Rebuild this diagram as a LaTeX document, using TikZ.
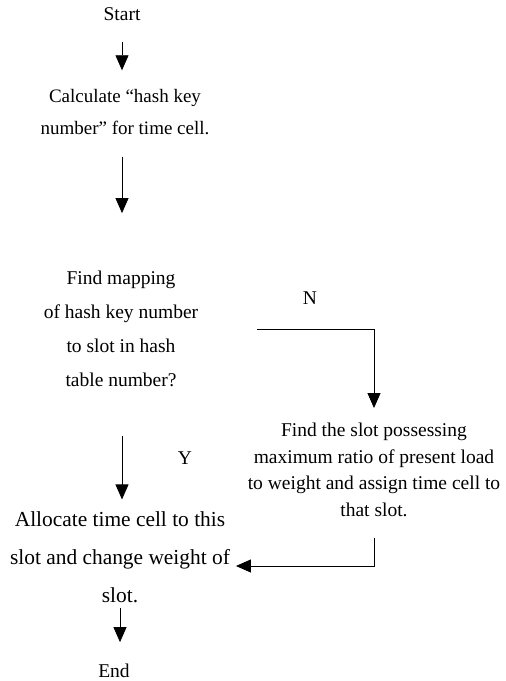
\documentclass[tikz,border=0pt]{standalone}
\usepackage{fontspec}
\setmainfont{Liberation Serif}
\usetikzlibrary{arrows.meta}
\tikzset{
  txt/.style={inner sep=0pt, outer sep=0pt, align=center},
  arr/.style={line width=0.8pt, -{Triangle[width=13pt,length=15pt]}},
  ln/.style={line width=0.8pt}
}
\begin{document}
\begin{tikzpicture}[x=1pt,y=-1pt]
\useasboundingbox (0,0) rectangle (506,681);
\node[txt, font=\fontsize{19.5}{32}\selectfont] (start) at (122,14) {Start};
\node[txt, font=\fontsize{19}{32}\selectfont] (calc) at (125,112) {Calculate “hash key\\number” for time cell.};
\node[txt, font=\fontsize{19.5}{34}\selectfont] (find) at (121,329) {Find mapping\\of hash key number\\to slot in hash\\table number?};
\node[txt, font=\fontsize{19.5}{32}\selectfont] (nlab) at (310,298) {N};
\node[txt, font=\fontsize{19.5}{26.7}\selectfont] (slot) at (374,470) {Find the slot possessing\\maximum ratio of present load\\to weight and assign time cell to\\that slot.};
\node[txt, font=\fontsize{19.5}{32}\selectfont] (ylab) at (185,458) {Y};
\node[txt, font=\fontsize{21.4}{38}\selectfont] (alloc) at (120,557) {Allocate time cell to this\\slot and change weight of\\slot.};
\node[txt, font=\fontsize{19.5}{32}\selectfont] (end) at (114,671) {End};

\draw[arr, shorten <=21pt, shorten >=19pt] (start.south) -- (start.south |- calc.north);
\draw[arr, shorten <=22pt, shorten >=58pt] (calc.south -| start) -- (start |- find.north);
\draw[arr, shorten <=59pt, shorten >=15pt] (find.east) -| (slot.north);
\draw[arr, shorten <=21pt, shorten >=6pt] (slot.south) |- ([yshift=-9pt]alloc.east);
\draw[arr, shorten <=49pt, shorten >=12pt] (find.south -| start) -- (start |- alloc.north);
\draw[arr, shorten <=5pt, shorten >=22pt] (alloc.south) -- (alloc.south |- end.north);
\end{tikzpicture}
\end{document}
